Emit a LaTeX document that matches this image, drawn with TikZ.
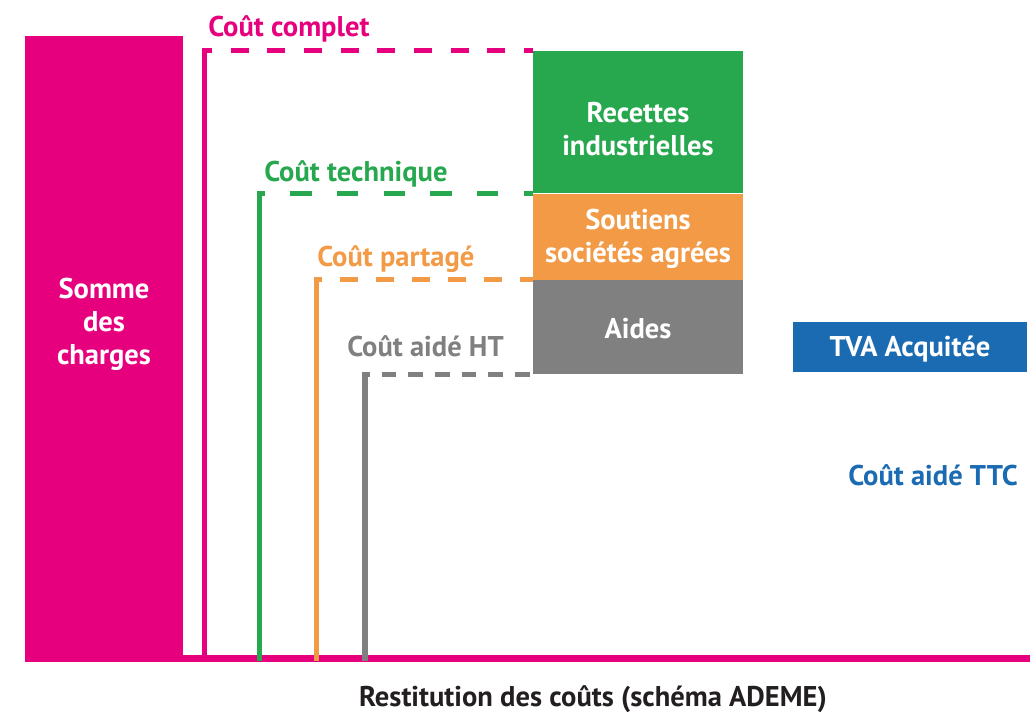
\documentclass[tikz,border=0pt]{standalone}
\usepackage{fontspec}
\setmainfont{PT Sans}
\usetikzlibrary{positioning}
\definecolor{rose}{HTML}{E6007E}
\definecolor{vert}{HTML}{27A84F}
\definecolor{orangec}{HTML}{F29A45}
\definecolor{gris}{HTML}{808080}
\definecolor{bleu}{HTML}{1B6BB2}
\definecolor{noir}{HTML}{231F20}
\newcommand\boxfont{\fontsize{21.4}{24.75}\selectfont\bfseries}
\begin{document}
\begin{tikzpicture}[x=0.75pt,y=-0.75pt,
        box/.style={inner sep=0pt,minimum width=157.5pt},
        boxtxt/.style={inner sep=0pt,text=white,align=center,font=\boxfont},
        cout/.style={anchor=base west,inner sep=0pt,font=\boxfont},
        trait/.style={line width=4pt,line cap=rect},
        tiret/.style={line width=4pt}]
        \useasboundingbox (0,0) rectangle (1030,712);
        % colonne des charges
        \node[fill=rose,inner sep=0pt,minimum width=118.5pt,minimum height=468pt] (somme) at (104,348) {};
        \node[boxtxt] (sommetxt) at (104,324) {Somme\\des\\charges};
        % recettes, soutiens et aides
        \node[box,fill=vert,minimum height=106.5pt] (recettes) at (638,122) {};
        \node[box,fill=orangec,minimum height=64.5pt,below=0pt of recettes] (soutiens) {};
        \node[box,fill=gris,minimum height=70.5pt,below=0pt of soutiens] (aides) {};
        \node[box,fill=bleu,minimum width=175.5pt,minimum height=37.5pt] (tva) at (910,347) {};
        \node[boxtxt] (recettestxt) at ([yshift=-5pt]recettes.center) {Recettes\\industrielles};
        \node[boxtxt] (soutienstxt) at ([yshift=-2pt]soutiens.center) {Soutiens\\sociétés agrées};
        \node[boxtxt] (aidestxt) at ([yshift=-1pt]aides.center) {Aides};
        \node[boxtxt] (tvatxt) at ([yshift=-1.5pt]tva.center) {TVA Acquitée};
        % axe
        \coordinate (o) at (25,658);
        \coordinate (fin) at (1030,658);
        \draw[rose,line width=5.25pt] (o) -- (fin);
        % les couts
        \coordinate (p1) at (204.5,658);
        \coordinate (p2) at (259.5,658);
        \coordinate (p3) at (316.5,658);
        \coordinate (p4) at (365,658);
        \draw[trait,rose] (p1) -- (p1 |- recettes.north west) coordinate (k1);
        \draw[tiret,rose,dash pattern=on 13.5pt off 14pt,dash phase=8pt] (k1) -- (recettes.north west);
        \draw[trait,vert] (p2) -- (p2 |- recettes.south west) coordinate (k2);
        \draw[tiret,vert,dash pattern=on 16pt off 19pt,dash phase=12pt] (k2) -- (recettes.south west);
        \draw[trait,orangec] (p3) -- (p3 |- soutiens.south west) coordinate (k3);
        \draw[tiret,orangec,dash pattern=on 13.5pt off 13.5pt,dash phase=9.4pt] (k3) -- (soutiens.south west);
        \draw[trait,gris] (p4) -- (p4 |- aides.south west) coordinate (k4);
        \draw[tiret,gris,dash pattern=on 11pt off 9pt,dash phase=7.5pt] (k4) -- (aides.south west);
        % etiquettes
        \node[cout,text=rose] (lcomplet) at (208,37) {Coût complet};
        \node[cout,text=vert] (ltechnique) at (264,182) {Coût technique};
        \node[cout,text=orangec] (lpartage) at (317,267) {Coût partagé};
        \node[cout,text=gris] (laideht) at (347,357) {Coût aidé HT};
        \node[cout,text=bleu] (laidettc) at (848,485) {Coût aidé TTC};
        \node[anchor=base,inner sep=0pt,text=noir,font=\boxfont] (titre) at (593,706) {Restitution des coûts (schéma ADEME)};
\end{tikzpicture}
\end{document}
